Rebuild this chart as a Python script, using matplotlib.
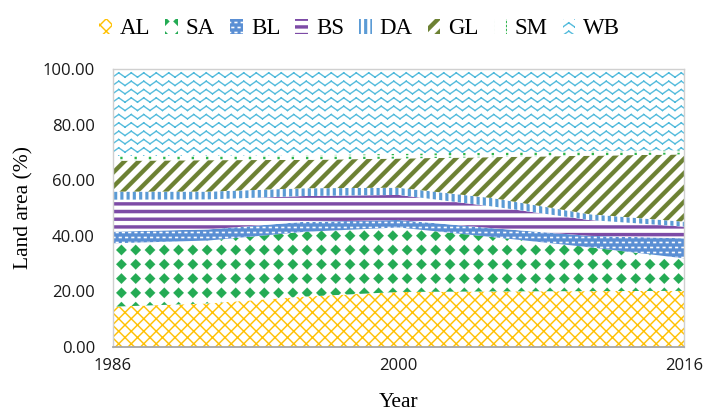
import numpy as np
import matplotlib
matplotlib.use("Agg")
import matplotlib.pyplot as plt
import matplotlib.hatch as mhatch
from matplotlib.path import Path

# ---------------- data ----------------
years = [1986, 1990, 1995, 2000, 2005, 2010, 2016]
tick_years = [1986, 2000, 2016]
AL = [14.5, 15.7, 18.1, 19.8, 20.0, 20.1, 20.2]
SA = [22.8, 22.6, 23.3, 23.2, 19.5, 15.8, 11.7]
BL = [4.2, 4.0, 3.6, 2.7, 3.2, 4.1, 7.2]
BS = [11.5, 10.8, 9.3, 9.0, 7.8, 5.7, 4.2]
DA = [2.9, 2.8, 2.8, 2.6, 3.0, 2.1, 1.8]
GL = [11.1, 11.3, 10.2, 10.5, 14.8, 21.0, 24.2]
SM = [1.7, 1.6, 1.7, 1.7, 1.7, 1.7, 1.5]
WB = [31.3, 31.2, 31.0, 30.5, 30.0, 29.5, 29.2]
names = ["AL", "SA", "BL", "BS", "DA", "GL", "SM", "WB"]
series = [AL, SA, BL, BS, DA, GL, SM, WB]

# ---------------- custom hatch tiles (tile = 1 inch) ----------------
def _ccw(poly):
    poly = np.asarray(poly, float)
    x, y = poly[:, 0], poly[:, 1]
    a = np.sum(x * np.roll(y, -1) - np.roll(x, -1) * y)
    return poly if a > 0 else poly[::-1]

def _seg(p0, p1, hw):
    p0 = np.array(p0, float); p1 = np.array(p1, float)
    d = p1 - p0; d /= np.hypot(*d)
    n = np.array([-d[1], d[0]]) * hw
    e = d * hw
    return _ccw([p0 - e + n, p1 + e + n, p1 + e - n, p0 - e - n])

def _rect(cx, cy, w, h):
    return _ccw([(cx - w / 2, cy - h / 2), (cx + w / 2, cy - h / 2),
                 (cx + w / 2, cy + h / 2), (cx - w / 2, cy + h / 2)])

def _diamond(cx, cy, r):
    return _ccw([(cx, cy - r), (cx + r, cy), (cx, cy + r), (cx - r, cy)])

def _build(polys):
    verts, codes = [], []
    for p in polys:
        verts.extend(p.tolist()); verts.append(p[0].tolist())
        codes.extend([Path.MOVETO] + [Path.LINETO] * (len(p) - 1) + [Path.CLOSEPOLY])
    return np.array(verts, float), np.array(codes, dtype=Path.code_type)

def pat_cross(n, hw):
    polys = []
    for k in range(-n - 1, n + 2):
        c = k / n
        polys.append(_seg((-0.1, -0.1 + c), (1.1, 1.1 + c), hw))
    for k in range(-1, 2 * n + 2):
        c = k / n
        polys.append(_seg((-0.1, 0.1 + c), (1.1, -1.1 + c), hw))
    return polys

def pat_diag(n, hw):
    return [_seg((-0.1, -0.1 + k / n), (1.1, 1.1 + k / n), hw) for k in range(-n - 1, n + 2)]

def pat_diamonds(n, r):
    return [_diamond((i + 0.5) / n, (j + 0.5) / n, r) for i in range(n) for j in range(n)]

def pat_dashes(nc, nr, w, h):
    return [_rect((i + 0.25 + 0.5 * (j % 2)) / nc, (j + 0.5) / nr, w, h)
            for i in range(nc) for j in range(nr)]

def pat_hlines(n, t):
    return [_rect(0.5, (k + 0.5) / n, 1.04, t) for k in range(n)]

def pat_vlines(n, t):
    return [_rect((k + 0.5) / n, 0.5, t, 1.04) for k in range(n)]

def pat_dots(nc, nr, s):
    return [_rect((i + 0.5) / nc, (j + 0.5) / nr, s, s) for i in range(nc) for j in range(nr)]

def pat_zigzag(nx, ny, amp, hw):
    polys = []
    for j in range(ny + 1):
        y0 = j / ny
        for i in range(-1, nx + 1):
            xa = i / nx
            xb = (i + 0.5) / nx
            xc = (i + 1) / nx
            polys.append(_seg((xa, y0 - amp), (xb, y0 + amp), hw))
            polys.append(_seg((xb, y0 + amp), (xc, y0 - amp), hw))
    return polys

PATTERNS = {
    "x": _build(pat_cross(8, 0.0065)),          # AL
    "*": _build(pat_diamonds(7, 0.053)),        # SA
    "o": _build(pat_dashes(16, 20, 0.03, 0.014)),  # BL
    "-": _build(pat_hlines(13, 0.033)),         # BS
    "|": _build(pat_vlines(16, 0.03)),          # DA
    "/": _build(pat_diag(7, 0.021)),            # GL
    ".": _build(pat_dots(7, 25, 0.022)),        # SM
    "O": _build(pat_zigzag(8, 12, 0.022, 0.006)),  # WB
}

class TileHatch(mhatch.HatchPatternBase):
    def __init__(self, hatch, density):
        spec = PATTERNS.get(hatch)
        if spec is None:
            self.num_vertices = 0
        else:
            self._v, self._c = spec
            self.num_vertices = len(self._v)

    def set_vertices_and_codes(self, vertices, codes):
        vertices[:] = self._v
        codes[:] = self._c

mhatch._hatch_types = [TileHatch]
plt.rcParams["hatch.linewidth"] = 0.1

# ---------------- styles ----------------
hatches = ["x", "*", "o", "-", "|", "/", ".", "O"]
faces = ["white", "white", "#5A8FD4", "white", "white", "white", "white", "white"]
hcols = ["#FFC000", "#24AB54", "white", "#7D4BA6", "#5B9BD5", "#6C8133", "#2DB54A", "#4EB9DB"]

fig = plt.figure(figsize=(7.04, 4.12), dpi=100)
ax = fig.add_axes([113 / 704, 1 - 347 / 412, 571 / 704, 278 / 412])

x = np.arange(len(years))
base = np.zeros(len(years))
for name, vals, h, fc, hc in zip(names, series, hatches, faces, hcols):
    top = base + np.array(vals, float)
    ax.fill_between(x, base, top, facecolor=fc, edgecolor=hc, hatch=h,
                    linewidth=0, label=name)
    base = top

ax.set_xlim(0, len(years) - 1)
ax.set_ylim(0, 100)
ax.set_yticks(np.arange(0, 101, 20))
ax.set_yticklabels([f"{v:.2f}" for v in np.arange(0, 101, 20)],
                   fontfamily="Open Sans", fontsize=12)
ax.set_xticks([years.index(t) for t in tick_years])
ax.set_xticklabels([str(t) for t in tick_years], fontfamily="Open Sans", fontsize=12)
ax.tick_params(axis="y", length=0, pad=13, colors="#1a1a1a")
ax.tick_params(axis="x", length=0, pad=8, colors="#1a1a1a")

ax.set_ylabel("Land area (%)", fontfamily="Liberation Serif", fontsize=15.5)
ax.yaxis.set_label_coords(-0.14, 0.5)
ax.set_xlabel("Year", fontfamily="Liberation Serif", fontsize=15.5)
ax.xaxis.set_label_coords(0.5, -0.165)

for s in ["top", "right", "left"]:
    ax.spines[s].set_color("#D0D0D0")
    ax.spines[s].set_linewidth(1.0)
ax.spines["bottom"].set_color("#A6A6A6")
ax.spines["bottom"].set_linewidth(1.3)

leg = fig.legend(loc="center", bbox_to_anchor=(0.511, 0.93), ncol=8, frameon=False,
                 prop={"family": "Liberation Serif", "size": 16.5},
                 handlelength=0.55, handleheight=0.6, handletextpad=0.35,
                 columnspacing=0.66, borderaxespad=0)

fig.savefig("out.png", dpi=100)
